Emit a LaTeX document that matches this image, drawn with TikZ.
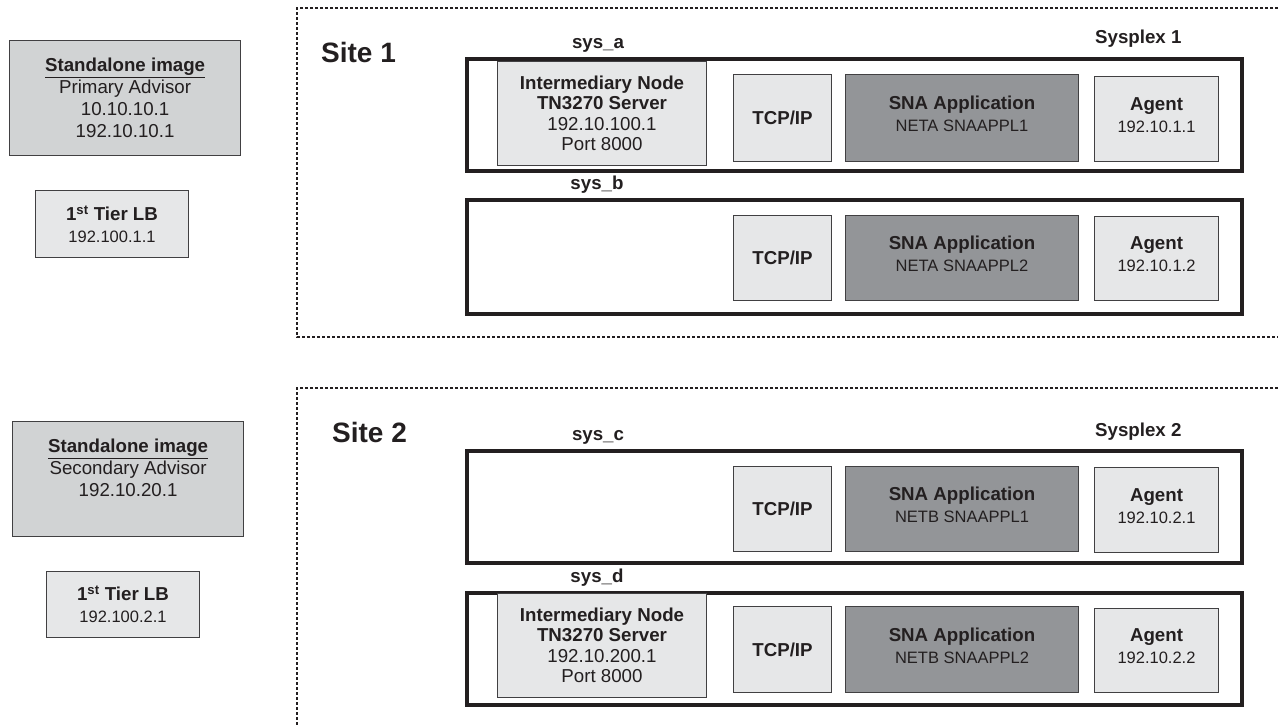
\documentclass[tikz,border=0pt]{standalone}
\usepackage{fontspec}
\setmainfont{Liberation Sans}
\definecolor{sgray}{RGB}{209,211,212}
\definecolor{lgray}{RGB}{230,231,232}
\definecolor{dgray}{RGB}{147,149,152}
\definecolor{edge}{RGB}{65,64,66}
\definecolor{ink}{RGB}{35,31,32}
\newcommand{\subf}{\fontsize{16.5}{22}\selectfont}
\tikzset{
  base/.style={rectangle, anchor=north west, inner sep=0pt, align=center,
    font=\fontsize{18.7}{22}\selectfont, text=ink},
  sysbox/.style={base, draw=ink, line width=4pt, fill=white},
  lbox/.style={base, draw=edge, line width=1pt, fill=lgray},
  upbox/.style={text depth=8pt},
  standbox/.style={base, draw=edge, line width=1.2pt, fill=sgray},
  snabox/.style={base, draw=edge, line width=1pt, fill=dgray, text depth=8pt},
  sitebox/.style={draw=ink, line width=1.3pt, dash pattern=on 3pt off 2pt},
  sitelabel/.style={anchor=base west, inner sep=0pt, font=\bfseries\fontsize{28}{30}\selectfont, text=ink},
  syslabel/.style={anchor=base, inner sep=0pt, font=\bfseries\fontsize{18.7}{22}\selectfont, text=ink},
  plexlabel/.style={anchor=base west, inner sep=0pt, font=\bfseries\fontsize{18.7}{22}\selectfont, text=ink}
}
\begin{document}
\begin{tikzpicture}[x=1pt,y=-1pt]
\useasboundingbox (0,0) rectangle (1278,726);
% left column
\node[standbox, minimum width=231pt, minimum height=115pt] (stand1) at (9,40)
  {\underline{\textbf{Standalone image}}\\Primary Advisor\\10.10.10.1\\192.10.10.1};
\node[lbox, minimum width=153pt, minimum height=67pt] (lb1) at (35,190)
  {\textbf{1\textsuperscript{st} Tier LB}\\{\subf 192.100.1.1}};
\node[standbox, minimum width=231pt, minimum height=115pt] (stand2) at (12,421)
  {\underline{\textbf{Standalone image}}\\Secondary Advisor\\192.10.20.1\\\mbox{}};
\node[lbox, minimum width=153pt, minimum height=66pt] (lb2) at (46,571)
  {\textbf{1\textsuperscript{st} Tier LB}\\{\subf 192.100.2.1}};
% site frames
\draw[sitebox] (1278,8) -- (297,8) -- (297,337) -- (1278,337);
\draw[sitebox] (1278,388) -- (297,388) -- (297,726);
\node[sitelabel] (site1) at (321,62) {Site 1};
\node[sitelabel] (site2) at (332,442) {Site 2};
\node[plexlabel] (plex1) at (1095,43) {Sysplex 1};
\node[plexlabel] (plex2) at (1095,436) {Sysplex 2};
% sys_a
\node[syslabel] (la) at (598,48) {sys\_a};
\node[sysbox, minimum width=775pt, minimum height=112pt] (sysa) at (465,57) {};
\node[lbox, minimum width=209pt, minimum height=104pt, font=\fontsize{18.7}{20.5}\selectfont] (ina) at (497,61)
  {\textbf{Intermediary Node}\\\textbf{TN3270 Server}\\192.10.100.1\\Port 8000};
\node[lbox, minimum width=98pt, minimum height=87pt] (tcpa) at (733,74) {\textbf{TCP/IP}};
\node[snabox, minimum width=233pt, minimum height=87pt] (snaa) at (845,74)
  {\textbf{SNA Application}\\{\subf NETA SNAAPPL1}};
\node[lbox, upbox, minimum width=124pt, minimum height=85pt] (aga) at (1094,76)
  {\textbf{Agent}\\{\subf 192.10.1.1}};
% sys_b
\node[syslabel] (lb) at (597,189) {sys\_b};
\node[sysbox, minimum width=775pt, minimum height=114pt] (sysb) at (465,198) {};
\node[lbox, minimum width=98pt, minimum height=85pt] (tcpb) at (733,215) {\textbf{TCP/IP}};
\node[snabox, minimum width=233pt, minimum height=85pt] (snab) at (845,215)
  {\textbf{SNA Application}\\{\subf NETA SNAAPPL2}};
\node[lbox, upbox, minimum width=124pt, minimum height=84pt] (agb) at (1094,216)
  {\textbf{Agent}\\{\subf 192.10.1.2}};
% sys_c
\node[syslabel] (lc) at (598,440) {sys\_c};
\node[sysbox, minimum width=775pt, minimum height=112pt] (sysc) at (465,449) {};
\node[lbox, minimum width=98pt, minimum height=85pt] (tcpc) at (733,466) {\textbf{TCP/IP}};
\node[snabox, minimum width=233pt, minimum height=85pt] (snac) at (845,466)
  {\textbf{SNA Application}\\{\subf NETB SNAAPPL1}};
\node[lbox, upbox, minimum width=124pt, minimum height=85pt] (agc) at (1094,467)
  {\textbf{Agent}\\{\subf 192.10.2.1}};
% sys_d
\node[syslabel] (ld) at (597,582) {sys\_d};
\node[sysbox, minimum width=775pt, minimum height=112pt] (sysd) at (465,591) {};
\node[lbox, minimum width=209pt, minimum height=104pt, font=\fontsize{18.7}{20.5}\selectfont] (ind) at (497,593)
  {\textbf{Intermediary Node}\\\textbf{TN3270 Server}\\192.10.200.1\\Port 8000};
\node[lbox, minimum width=98pt, minimum height=86pt] (tcpd) at (733,606) {\textbf{TCP/IP}};
\node[snabox, minimum width=233pt, minimum height=86pt] (snad) at (845,606)
  {\textbf{SNA Application}\\{\subf NETB SNAAPPL2}};
\node[lbox, upbox, minimum width=124pt, minimum height=84pt] (agd) at (1094,608)
  {\textbf{Agent}\\{\subf 192.10.2.2}};
\end{tikzpicture}
\end{document}
